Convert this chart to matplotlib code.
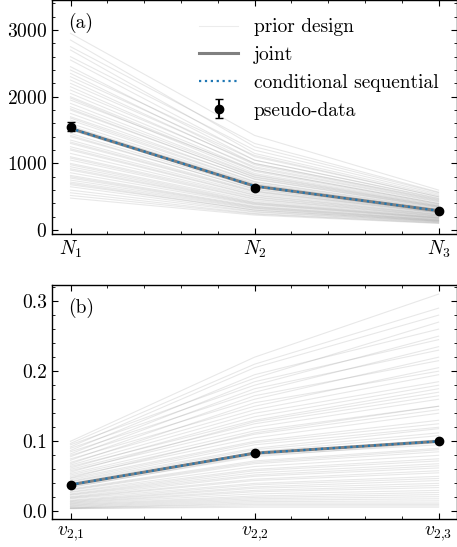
import numpy as np
import matplotlib.pyplot as plt

# donnees
x_pos = [0, 1, 2]
labels_N = ['$N_1$', '$N_2$', '$N_3$']
labels_v = ['$v_{2{,}1}$', '$v_{2{,}2}$', '$v_{2{,}3}$']

# echantillons du prior (N1, N2, N3)
prior_N = [
    (2950, 1420, 600), (2850, 1250, 560), (2750, 1300, 570), (2700, 1150, 520),
    (2600, 1200, 540), (2550, 1100, 500), (2450, 1050, 480), (2400, 1120, 500),
    (2350, 1000, 460), (2300, 1050, 470), (2250, 980, 440), (2200, 1000, 450),
    (2150, 930, 420), (2100, 950, 430), (2050, 900, 400), (2000, 880, 390),
    (1980, 850, 380), (1950, 900, 400), (1900, 830, 370), (1850, 820, 360),
    (1820, 790, 350), (1800, 800, 360), (1750, 760, 340), (1700, 770, 345),
    (1680, 730, 330), (1650, 720, 320), (1600, 700, 310), (1560, 690, 305),
    (1520, 670, 300), (1500, 650, 290), (1450, 640, 285), (1420, 610, 270),
    (1400, 620, 275), (1350, 590, 265), (1320, 580, 260), (1300, 570, 255),
    (1250, 550, 245), (1220, 530, 235), (1200, 520, 230), (1150, 500, 225),
    (1100, 490, 215), (1080, 470, 210), (1050, 460, 205), (1000, 440, 195),
    (980, 420, 190), (950, 410, 185), (920, 400, 180), (900, 390, 175),
    (860, 380, 170), (820, 360, 160), (800, 350, 155), (780, 340, 150),
    (750, 330, 145), (720, 320, 140), (700, 300, 135), (680, 300, 133),
    (650, 280, 125), (600, 270, 120), (560, 250, 112), (520, 240, 105),
    (480, 225, 100),
]
joint_N = [1525, 660, 290]
data_N = [1550, 630, 280]
err_N = [65, 30, 15]

# echantillons du prior (v21, v22, v23)
prior_v = [
    (0.100, 0.220, 0.310), (0.097, 0.210, 0.290), (0.095, 0.190, 0.270),
    (0.092, 0.205, 0.280), (0.090, 0.180, 0.250), (0.087, 0.195, 0.260),
    (0.085, 0.170, 0.235), (0.082, 0.185, 0.245), (0.080, 0.160, 0.220),
    (0.078, 0.175, 0.230), (0.075, 0.150, 0.205), (0.073, 0.165, 0.215),
    (0.070, 0.145, 0.195), (0.068, 0.155, 0.200), (0.066, 0.140, 0.185),
    (0.064, 0.130, 0.175), (0.062, 0.135, 0.180), (0.060, 0.125, 0.165),
    (0.058, 0.120, 0.160), (0.056, 0.128, 0.170), (0.054, 0.115, 0.150),
    (0.052, 0.110, 0.145), (0.050, 0.105, 0.140), (0.048, 0.112, 0.150),
    (0.047, 0.100, 0.130), (0.045, 0.098, 0.125), (0.043, 0.095, 0.120),
    (0.042, 0.090, 0.118), (0.040, 0.088, 0.112), (0.038, 0.085, 0.108),
    (0.037, 0.082, 0.102), (0.035, 0.078, 0.098), (0.034, 0.080, 0.095),
    (0.032, 0.072, 0.090), (0.031, 0.070, 0.088), (0.030, 0.068, 0.085),
    (0.028, 0.064, 0.080), (0.027, 0.060, 0.075), (0.025, 0.058, 0.072),
    (0.024, 0.055, 0.068), (0.023, 0.052, 0.065), (0.021, 0.050, 0.062),
    (0.020, 0.046, 0.058), (0.019, 0.044, 0.055), (0.018, 0.040, 0.050),
    (0.016, 0.038, 0.047), (0.015, 0.035, 0.044), (0.014, 0.033, 0.040),
    (0.013, 0.030, 0.037), (0.012, 0.028, 0.034), (0.011, 0.025, 0.030),
    (0.010, 0.022, 0.027), (0.009, 0.020, 0.024), (0.008, 0.018, 0.021),
    (0.007, 0.016, 0.018), (0.006, 0.014, 0.015), (0.005, 0.012, 0.012),
    (0.005, 0.010, 0.010), (0.004, 0.008, 0.008), (0.004, 0.006, 0.006),
]
joint_v = [0.038, 0.083, 0.100]
data_v = [0.038, 0.083, 0.100]
err_v = [0.001, 0.001, 0.001]

plt.rcParams['font.family'] = 'cmr10'
plt.rcParams['mathtext.fontset'] = 'cm'
plt.rcParams['axes.unicode_minus'] = False
plt.rcParams['axes.formatter.use_mathtext'] = True
plt.rcParams['font.size'] = 14
plt.rcParams['xtick.direction'] = 'in'
plt.rcParams['ytick.direction'] = 'in'
plt.rcParams['xtick.top'] = True
plt.rcParams['ytick.right'] = True
plt.rcParams['xtick.minor.visible'] = True
plt.rcParams['ytick.minor.visible'] = True
plt.rcParams['xtick.major.size'] = 4
plt.rcParams['ytick.major.size'] = 4
plt.rcParams['xtick.minor.size'] = 2
plt.rcParams['ytick.minor.size'] = 2
plt.rcParams['axes.linewidth'] = 1.0

fig = plt.figure(figsize=(4.57, 5.47), dpi=100)
ax1 = fig.add_axes([0.114, 0.572, 0.886, 0.428])
ax2 = fig.add_axes([0.114, 0.051, 0.886, 0.428])


def panneau(ax, prior, joint, data, err, labels, lettre):
    for i, ligne in enumerate(prior):
        ax.plot(x_pos, ligne, color='gray', alpha=0.18, lw=0.8,
                label='prior design' if i == 0 else None)
    ax.plot(x_pos, joint, color='gray', lw=2.2, label='joint')
    ax.plot(x_pos, joint, color='tab:blue', lw=1.6, ls=':',
            label='conditional sequential')
    ax.errorbar(x_pos, data, yerr=err, fmt='o', color='black', ms=6,
                capsize=3, elinewidth=1.5, label='pseudo-data', zorder=5)
    ax.set_xticks(x_pos)
    ax.set_xticklabels(labels)
    ax.set_xlim(-0.1, 2.1)
    ax.text(0.04, 0.90, lettre, transform=ax.transAxes, va='center')


panneau(ax1, prior_N, joint_N, data_N, err_N, labels_N, '(a)')
panneau(ax2, prior_v, joint_v, data_v, err_v, labels_v, '(b)')

ax1.set_ylim(-60, 3450)
ax1.set_yticks([0, 1000, 2000, 3000])
ax1.yaxis.set_minor_locator(plt.MultipleLocator(200))
ax1.xaxis.set_minor_locator(plt.MultipleLocator(0.2))

ax2.set_ylim(-0.011, 0.323)
ax2.set_yticks([0.0, 0.1, 0.2, 0.3])
ax2.set_yticklabels(['0.0', '0.1', '0.2', '0.3'])
ax2.yaxis.set_minor_locator(plt.MultipleLocator(0.02))
ax2.xaxis.set_minor_locator(plt.MultipleLocator(0.2))

leg = ax1.legend(loc='upper right', frameon=False, borderaxespad=0.55)
for h in leg.legend_handles[:1]:
    h.set_alpha(0.15)

fig.savefig('out.png', dpi=100)
